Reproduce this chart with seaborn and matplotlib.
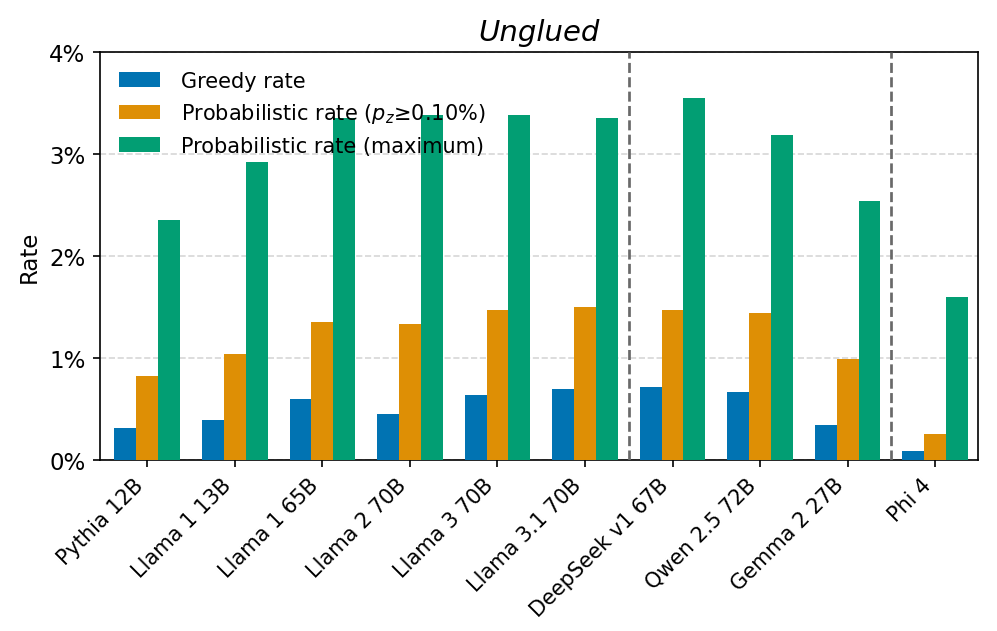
import matplotlib
matplotlib.use("Agg")
import matplotlib.pyplot as plt
import seaborn as sns
import pandas as pd
from matplotlib.ticker import FuncFormatter

models = ["Pythia 12B", "Llama 1 13B", "Llama 1 65B", "Llama 2 70B", "Llama 3 70B",
          "Llama 3.1 70B", "DeepSeek v1 67B", "Qwen 2.5 72B", "Gemma 2 27B", "Phi 4"]
greedy = [0.31, 0.39, 0.60, 0.45, 0.64, 0.69, 0.71, 0.66, 0.34, 0.085]
prob_thresh = [0.82, 1.04, 1.35, 1.33, 1.47, 1.50, 1.47, 1.44, 0.99, 0.255]
prob_max = [2.35, 2.92, 3.35, 3.38, 3.38, 3.35, 3.55, 3.19, 2.54, 1.60]
series_names = ["Greedy rate", r"Probabilistic rate ($p_z$≥0.10%)", "Probabilistic rate (maximum)"]

rows = []
for name, vals in zip(series_names, [greedy, prob_thresh, prob_max]):
    for m, v in zip(models, vals):
        rows.append({"Model": m, "Series": name, "Rate": v})
df = pd.DataFrame(rows)

fig = plt.figure(figsize=(997 / 150, 632 / 150), dpi=150)
ax = fig.add_axes([0.1003, 0.271, 0.8807, 0.645])
palette = sns.color_palette("colorblind", 3)
sns.barplot(data=df, x="Model", y="Rate", hue="Series", palette=palette,
            width=0.75, ax=ax, zorder=3, saturation=1, linewidth=0)

ax.set_ylim(0, 4)
ax.set_yticks([0, 1, 2, 3, 4])
ax.yaxis.set_major_formatter(FuncFormatter(lambda v, p: f"{v:.0f}%"))
ax.set_xlim(-0.54, 9.49)
ax.grid(axis="y", linestyle="--", color="lightgray", alpha=0.9, zorder=0)
ax.set_axisbelow(True)
for xv in [5.5, 8.5]:
    ax.axvline(xv, color="dimgray", linestyle="--", linewidth=1.3, zorder=4)
ax.set_xlabel("")
ax.set_ylabel("Rate", fontsize=11)
ax.set_title("Unglued", fontstyle="italic", fontsize=14)
plt.setp(ax.get_xticklabels(), rotation=45, ha="right", fontsize=10)
plt.setp(ax.get_yticklabels(), fontsize=11)
ax.legend(loc="upper left", frameon=False, fontsize=10, title=None,
          handletextpad=1.0)
for s in ax.spines.values():
    s.set_color("black")

fig.savefig("out.png", dpi=150)
